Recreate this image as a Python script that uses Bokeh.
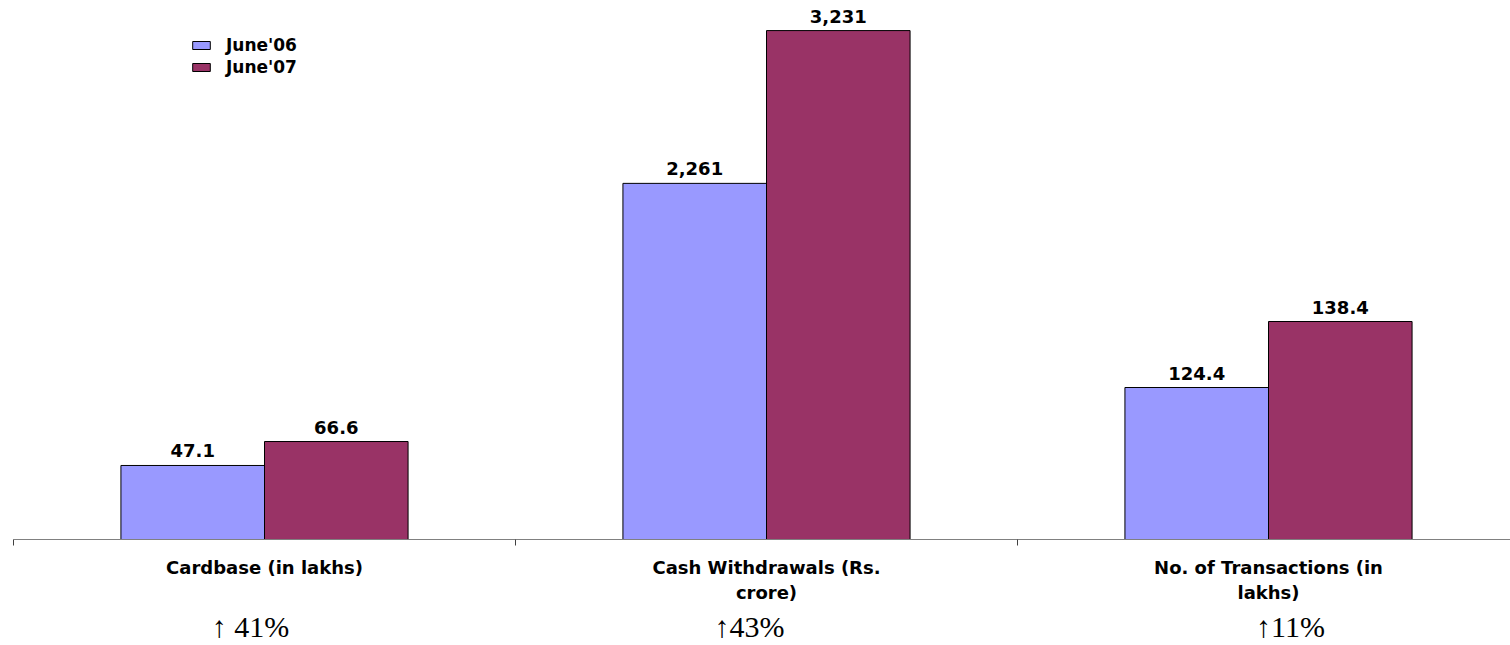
from bokeh.plotting import figure
from bokeh.models import (ColumnDataSource, Range1d, LinearAxis, FixedTicker,
                          LabelSet, Legend, LegendItem)
from bokeh.core.properties import value
from bokeh.transform import dodge
from bokeh.embed import file_html
from bokeh.resources import INLINE

# ---------------- data ----------------
categories = ["Cardbase (in lakhs)", "Cash Withdrawals (Rs. crore)",
              "No. of Transactions (in lakhs)"]
tick_labels = ["Cardbase (in lakhs)", "Cash Withdrawals (Rs.\ncrore)",
               "No. of Transactions (in\nlakhs)"]
series_names = ["June'06", "June'07"]
values_06 = [47.1, 2261, 124.4]
values_07 = [66.6, 3231, 138.4]
labels_06 = ["47.1", "2,261", "124.4"]
labels_07 = ["66.6", "3,231", "138.4"]
# bar heights as drawn in the original (on the Cash Withdrawals scale)
drawn_06 = [470, 2261, 965]
drawn_07 = [622, 3231, 1384]
growth = ["\u2191 41%", "\u219143%", "\u219111%"]

# ---------------- styles ----------------
BLUE = "#9999FF"
PLUM = "#993366"
BOLD_FONT = "DejaVu Sans"
SERIF = "Liberation Serif"
PX_PER_CAT = 502
growth_shift_px = [-14, -17, 22]

xs = [i + 0.5 for i in range(len(categories))]
src = ColumnDataSource(dict(x=xs, h06=drawn_06, h07=drawn_07,
                            l06=labels_06, l07=labels_07))

p = figure(width=1510, height=645,
           x_range=Range1d(0, 1497 / PX_PER_CAT), y_range=Range1d(0, 3422),
           output_backend="svg", toolbar_location=None,
           x_axis_location=None, y_axis_location=None,
           min_border_left=13, min_border_right=0, min_border_top=0,
           min_border_bottom=106)
p.outline_line_color = None
p.xgrid.visible = False
p.ygrid.visible = False
p.background_fill_color = "white"
p.border_fill_color = "white"

bw = 0.286
r06 = p.vbar(x=dodge("x", -0.143, range=p.x_range), top="h06", width=bw,
             source=src, fill_color=BLUE, line_color="black", line_width=1)
r07 = p.vbar(x=dodge("x", 0.143, range=p.x_range), top="h07", width=bw,
             source=src, fill_color=PLUM, line_color="black", line_width=1)

for col, top, off in (("l06", "h06", -0.143), ("l07", "h07", 0.143)):
    p.add_layout(LabelSet(x=dodge("x", off, range=p.x_range), y=top,
                          text=col, source=src, y_offset=8,
                          text_align="center", text_baseline="alphabetic",
                          text_font=value(BOLD_FONT), text_font_style="bold",
                          text_font_size="18px", text_color="black"))

axis = LinearAxis(ticker=FixedTicker(ticks=xs, minor_ticks=[0, 1, 2, 3]))
axis.major_label_overrides = {x: t for x, t in zip(xs, tick_labels)}
axis.axis_line_color = "#808080"
axis.axis_line_width = 1
axis.major_tick_line_color = None
axis.major_tick_out = 0
axis.major_tick_in = 0
axis.minor_tick_line_color = "#404040"
axis.minor_tick_out = 6
axis.minor_tick_in = 0
axis.major_label_standoff = 11
axis.major_label_text_font = BOLD_FONT
axis.major_label_text_font_style = "bold"
axis.major_label_text_font_size = "18px"
axis.major_label_text_color = "black"
p.add_layout(axis, "below")

# growth annotations below the category names
gx = [x + s / PX_PER_CAT for x, s in zip(xs, growth_shift_px)]
gaxis = LinearAxis(ticker=FixedTicker(ticks=gx, minor_ticks=[]))
gaxis.major_label_overrides = {x: g for x, g in zip(gx, growth)}
gaxis.axis_line_color = None
gaxis.major_tick_line_color = None
gaxis.minor_tick_line_color = None
gaxis.major_tick_out = 0
gaxis.major_tick_in = 0
gaxis.minor_tick_out = 0
gaxis.major_label_standoff = 4
gaxis.major_label_text_font = SERIF
gaxis.major_label_text_font_size = "30px"
gaxis.major_label_text_color = "black"
p.add_layout(gaxis, "below")

legend = Legend(items=[LegendItem(label=series_names[0], renderers=[r06]),
                       LegendItem(label=series_names[1], renderers=[r07])],
                location=(177, 462), orientation="vertical",
                glyph_width=22, glyph_height=10, label_standoff=14,
                label_height=20, spacing=2, padding=0, margin=0,
                label_text_font=BOLD_FONT, label_text_font_style="bold",
                label_text_font_size="17px", label_text_color="black",
                border_line_color=None, background_fill_alpha=0)
p.add_layout(legend, "center")

open("out.html", "w").write(file_html(p, INLINE))
